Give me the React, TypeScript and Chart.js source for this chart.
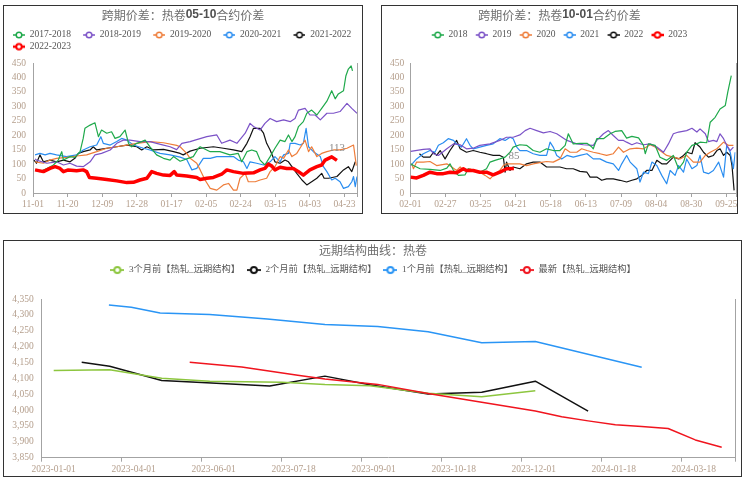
import React, { useEffect, useRef } from 'react';
import { Chart, registerables } from 'chart.js';

Chart.register(...registerables);

// ---------------- data: left panel (05-10) ----------------
const L_TICKS = ['11-01', '11-20', '12-09', '12-28', '01-17', '02-05', '02-24', '03-15', '04-03', '04-23'];
const L_NAMES = ['2017-2018', '2018-2019', '2019-2020', '2020-2021', '2021-2022', '2022-2023'];

const L_2017_2018: number[][] = [[0.06,80],[0.2,74],[0.4,85],[0.59,97],[0.73,114],[0.83,143],[0.88,114],[1.07,126],[1.21,123],[1.36,143],[1.45,189],[1.5,224],[1.65,235],[1.79,243],[1.89,195],[1.98,218],[2.13,207],[2.27,212],[2.37,189],[2.51,195],[2.66,218],[2.76,172],[2.85,160],[3.0,172],[3.14,178],[3.24,183],[3.38,160],[3.57,132],[3.77,120],[3.96,114],[4.06,126],[4.25,110],[4.44,118],[4.63,126],[4.78,155],[4.83,160],[5.12,143],[5.4,143],[5.69,132],[5.93,137],[6.03,108],[6.18,143],[6.32,149],[6.46,143],[6.56,114],[6.7,97],[6.85,126],[6.99,155],[7.14,183],[7.28,178],[7.38,201],[7.48,178],[7.57,195],[7.67,230],[7.81,247],[7.91,276],[8.05,287],[8.2,270],[8.34,293],[8.49,318],[8.63,354],[8.73,326],[8.82,343],[8.97,354],[9.04,406],[9.11,429],[9.19,440],[9.23,423]];
const L_2018_2019: number[][] = [[0.06,118],[0.1,114],[0.4,103],[0.68,108],[0.88,97],[1.07,103],[1.26,93],[1.45,91],[1.65,108],[1.79,132],[1.98,137],[2.23,149],[2.42,172],[2.61,183],[2.8,183],[3.09,178],[3.38,178],[3.57,172],[3.77,166],[3.96,160],[4.15,150],[4.3,172],[4.54,178],[4.68,183],[5.02,195],[5.31,201],[5.45,172],[5.69,183],[5.89,172],[6.13,207],[6.27,241],[6.37,230],[6.56,218],[6.7,241],[6.85,258],[7.04,247],[7.24,253],[7.43,247],[7.57,258],[7.67,287],[7.86,293],[8.0,270],[8.15,270],[8.3,253],[8.49,276],[8.68,276],[8.87,282],[9.07,310],[9.21,293],[9.36,276]];
const L_2019_2020: number[][] = [[0.06,108],[0.3,103],[0.49,114],[0.68,120],[0.97,123],[1.26,128],[1.55,132],[1.84,143],[2.13,155],[2.42,160],[2.71,166],[3.0,172],[3.38,178],[3.77,174],[4.15,165],[4.25,160],[4.44,137],[4.54,120],[4.73,103],[4.83,80],[4.97,45],[5.12,16],[5.31,10],[5.5,28],[5.65,33],[5.79,10],[5.89,10],[5.98,51],[6.13,68],[6.22,39],[6.42,39],[6.56,45],[6.75,51],[6.85,74],[6.99,91],[7.14,126],[7.24,120],[7.38,149],[7.48,126],[7.62,137],[7.77,166],[7.86,183],[7.96,143],[8.05,160],[8.2,126],[8.34,137],[8.49,143],[8.68,149],[8.87,149],[9.07,155],[9.26,166],[9.34,95]];
const L_2020_2021: number[][] = [[0.06,132],[0.2,137],[0.35,132],[0.49,137],[0.68,132],[0.97,126],[1.26,132],[1.45,149],[1.65,160],[1.84,166],[1.96,195],[2.03,172],[2.23,166],[2.42,178],[2.56,189],[2.71,183],[2.9,166],[3.19,155],[3.38,149],[3.67,137],[3.96,132],[4.25,124],[4.44,116],[4.59,80],[4.73,85],[4.92,120],[5.12,120],[5.31,126],[5.5,126],[5.79,126],[5.93,114],[6.08,108],[6.18,85],[6.27,108],[6.46,103],[6.66,97],[6.85,108],[6.99,126],[7.14,108],[7.24,132],[7.38,137],[7.43,172],[7.57,172],[7.72,166],[7.81,172],[7.89,224],[7.96,160],[8.1,143],[8.3,126],[8.39,91],[8.49,74],[8.63,45],[8.73,51],[8.87,39],[8.97,16],[9.11,22],[9.21,39],[9.26,57],[9.31,22],[9.36,57]];
const L_2021_2022: number[][] = [[0.03,114],[0.1,103],[0.2,132],[0.3,108],[0.49,114],[0.68,108],[0.88,114],[1.07,108],[1.21,120],[1.31,137],[1.45,143],[1.65,149],[1.74,160],[1.84,149],[2.13,155],[2.42,160],[2.71,166],[3.0,160],[3.14,149],[3.29,160],[3.48,149],[3.77,151],[4.06,143],[4.25,137],[4.34,132],[4.54,145],[4.83,155],[5.21,160],[5.5,155],[5.79,149],[6.03,143],[6.18,172],[6.27,195],[6.37,224],[6.56,224],[6.66,207],[6.75,172],[6.85,149],[6.99,108],[7.14,103],[7.28,114],[7.38,108],[7.48,91],[7.62,68],[7.77,45],[7.91,28],[8.05,39],[8.2,51],[8.34,68],[8.41,51],[8.54,51],[8.78,57],[8.97,80],[9.11,91],[9.21,74],[9.31,108]];
const L_2022_2023: number[][] = [[0.06,80],[0.3,74],[0.49,85],[0.64,91],[0.78,85],[0.88,74],[1.02,80],[1.26,77],[1.45,80],[1.55,74],[1.63,54],[1.84,51],[2.13,47],[2.42,42],[2.71,36],[2.9,37],[3.09,45],[3.29,51],[3.43,74],[3.57,68],[3.77,62],[3.96,61],[4.08,74],[4.15,62],[4.44,59],[4.73,54],[4.83,47],[5.02,51],[5.21,54],[5.45,65],[5.6,80],[5.79,74],[6.08,68],[6.37,70],[6.56,80],[6.7,85],[6.8,100],[6.9,93],[6.99,80],[7.14,89],[7.33,85],[7.52,85],[7.67,74],[7.81,62],[8.0,80],[8.2,91],[8.34,97],[8.44,114],[8.54,120],[8.63,125],[8.78,113]];

// ---------------- data: right panel (10-01) ----------------
const R_TICKS = ['02-01', '02-27', '03-25', '04-21', '05-18', '06-13', '07-09', '08-04', '08-30', '09-25'];
const R_NAMES = ['2018', '2019', '2020', '2021', '2022', '2023'];

const R_2018: number[][] = [[0.01,101],[0.09,95],[0.28,84],[0.56,82],[0.85,78],[1.04,86],[1.13,101],[1.23,78],[1.37,61],[1.56,63],[1.65,84],[1.79,78],[1.98,72],[2.17,84],[2.27,107],[2.41,113],[2.55,118],[2.7,124],[2.84,141],[2.93,159],[3.12,167],[3.31,165],[3.5,147],[3.69,141],[3.88,153],[4.07,147],[4.26,147],[4.41,165],[4.5,205],[4.64,170],[4.83,172],[5.03,172],[5.17,159],[5.21,153],[5.31,188],[5.5,188],[5.69,205],[5.83,213],[6.02,216],[6.16,190],[6.31,196],[6.5,191],[6.64,165],[6.69,136],[6.78,170],[6.97,165],[7.11,124],[7.3,113],[7.49,130],[7.64,84],[7.78,107],[7.87,141],[8.02,165],[8.16,170],[8.25,176],[8.44,174],[8.54,245],[8.68,262],[8.82,291],[8.97,303],[9.04,349],[9.14,406]];
const R_2019: number[][] = [[0.01,144],[0.37,151],[0.56,153],[0.66,136],[0.8,130],[1.04,153],[1.23,170],[1.42,167],[1.6,153],[1.79,155],[1.98,165],[2.27,170],[2.55,182],[2.74,193],[2.93,193],[3.12,201],[3.27,216],[3.41,224],[3.6,216],[3.79,208],[3.98,213],[4.17,205],[4.46,182],[4.74,170],[4.93,167],[5.21,165],[5.31,182],[5.5,205],[5.64,216],[5.78,199],[5.93,182],[6.07,182],[6.16,176],[6.31,167],[6.45,174],[6.64,167],[6.83,170],[7.02,159],[7.21,141],[7.35,170],[7.49,205],[7.64,211],[7.87,216],[8.02,224],[8.16,211],[8.25,222],[8.4,205],[8.49,178],[8.63,182],[8.73,178],[8.82,205],[8.92,188],[9.01,165],[9.11,147],[9.2,159]];
const R_2020: number[][] = [[0.04,101],[0.09,84],[0.18,107],[0.37,107],[0.56,109],[0.75,95],[1.04,101],[1.18,90],[1.32,78],[1.42,90],[1.51,78],[1.7,84],[1.79,78],[1.98,72],[2.13,61],[2.27,49],[2.41,67],[2.55,78],[2.65,95],[2.74,101],[2.93,101],[3.12,101],[3.31,95],[3.5,101],[3.69,105],[3.88,109],[4.07,107],[4.26,118],[4.41,153],[4.55,141],[4.74,141],[4.88,153],[5.03,147],[5.21,141],[5.4,136],[5.59,130],[5.78,136],[5.93,159],[6.07,141],[6.26,153],[6.45,155],[6.64,153],[6.83,167],[6.97,159],[7.11,147],[7.3,130],[7.49,124],[7.68,118],[7.87,130],[8.06,107],[8.25,107],[8.4,130],[8.54,141],[8.73,153],[8.92,176],[9.06,165],[9.2,165]];
const R_2021: number[][] = [[0.01,95],[0.18,118],[0.37,136],[0.56,147],[0.7,141],[0.8,165],[0.94,174],[1.08,188],[1.23,182],[1.32,170],[1.46,159],[1.6,188],[1.7,165],[1.79,153],[1.98,159],[2.17,165],[2.36,170],[2.55,188],[2.7,182],[2.84,193],[2.93,188],[3.03,159],[3.12,147],[3.31,147],[3.5,136],[3.69,130],[3.88,130],[3.98,176],[4.07,159],[4.17,130],[4.31,118],[4.46,130],[4.64,124],[4.83,130],[5.03,136],[5.21,118],[5.4,118],[5.59,107],[5.78,101],[5.93,78],[6.02,101],[6.16,130],[6.26,107],[6.45,84],[6.54,38],[6.64,72],[6.78,67],[6.88,107],[7.02,95],[7.16,61],[7.3,32],[7.4,78],[7.54,61],[7.64,95],[7.78,72],[7.87,118],[8.02,84],[8.16,95],[8.25,130],[8.35,72],[8.49,67],[8.63,78],[8.78,107],[8.92,55],[9.01,165],[9.11,141],[9.2,84],[9.25,141]];
const R_2022: number[][] = [[0.26,136],[0.37,124],[0.56,124],[0.66,141],[0.75,130],[0.85,147],[0.99,118],[1.13,147],[1.23,165],[1.32,182],[1.42,153],[1.51,147],[1.6,141],[1.79,147],[1.98,141],[2.17,136],[2.36,130],[2.55,130],[2.65,124],[2.7,72],[2.74,107],[2.84,78],[2.93,90],[3.12,84],[3.31,101],[3.5,107],[3.69,107],[3.88,90],[4.07,90],[4.26,90],[4.45,84],[4.64,84],[4.83,75],[5.03,72],[5.12,55],[5.31,55],[5.45,44],[5.59,49],[5.78,49],[5.97,44],[6.16,38],[6.31,44],[6.45,49],[6.59,61],[6.73,78],[6.88,78],[7.02,113],[7.16,101],[7.3,101],[7.49,124],[7.64,118],[7.78,130],[7.87,141],[8.02,136],[8.11,174],[8.25,159],[8.35,141],[8.49,124],[8.63,130],[8.73,147],[8.82,153],[8.92,130],[9.01,141],[9.11,130],[9.16,95],[9.22,9]];
const R_2023: number[][] = [[0.01,55],[0.18,52],[0.37,61],[0.56,72],[0.75,67],[0.94,67],[1.13,72],[1.32,70],[1.51,84],[1.6,78],[1.79,78],[1.98,72],[2.17,72],[2.36,63],[2.55,72],[2.74,84],[2.95,85]];

// ---------------- data: bottom panel (forward curve) ----------------
const B_TICKS = ['2023-01-01', '2023-04-01', '2023-06-01', '2023-07-18', '2023-09-01', '2023-10-18', '2023-12-01', '2024-01-18', '2024-03-18'];
const B_NAMES = ['3个月前【热轧_远期结构】', '2个月前【热轧_远期结构】', '1个月前【热轧_远期结构】', '最新【热轧_远期结构】'];
const B_3M: number[][] = [[0.15,4125],[0.85,4127],[1.5,4100],[2.1,4091],[3.0,4088],[3.54,4081],[4.1,4077],[4.83,4053],[5.5,4042],[6.17,4061]];
const B_2M: number[][] = [[0.5,4151],[0.85,4138],[1.5,4093],[2.0,4087],[2.85,4076],[3.54,4107],[4.1,4080],[4.83,4051],[5.5,4056],[6.17,4091],[6.83,3997]];
const B_1M: number[][] = [[0.84,4331],[1.12,4324],[1.48,4306],[2.1,4301],[2.82,4287],[3.54,4270],[4.2,4263],[4.83,4247],[5.5,4212],[6.17,4216],[7.5,4135]];
const B_LATEST: number[][] = [[1.85,4151],[2.5,4136],[3.2,4110],[3.54,4098],[4.2,4081],[4.83,4052],[5.5,4025],[6.17,3997],[6.5,3979],[6.83,3966],[7.17,3954],[7.5,3948],[7.83,3942],[8.17,3906],[8.5,3883]];

// ---------------- styles ----------------
const SERIF = '"Liberation Serif", "Noto Sans CJK SC", serif';
const CJK = '"Noto Sans CJK SC", sans-serif';
const TICK_COLOR = '#b49e8c';
const AXIS_COLOR = '#a3a3a3';
const LEGEND_COLOR = '#555555';
const TITLE_COLOR = '#6e6e6e';

const TOP_COLORS = ['#1fa94b', '#7b52c7', '#ee7d3a', '#2a8df0', '#111111', '#ff0000'];
const BOT_COLORS = ['#8dc63f', '#111111', '#2a95f5', '#f0141e'];

function markerImage(color: string, total: number, seg: number, lw: number, cw: number, r: number) {
  const c = document.createElement('canvas');
  c.width = total;
  c.height = 10;
  const ctx = c.getContext('2d')!;
  const x0 = total - seg;
  ctx.strokeStyle = color;
  ctx.lineWidth = lw;
  ctx.beginPath();
  ctx.moveTo(x0, 5);
  ctx.lineTo(total, 5);
  ctx.stroke();
  ctx.beginPath();
  ctx.arc(x0 + seg / 2, 5, r, 0, Math.PI * 2);
  ctx.fillStyle = '#ffffff';
  ctx.fill();
  ctx.lineWidth = cw;
  ctx.stroke();
  return c;
}

type Seg = { text: string; bold?: boolean };

function decorPlugin(cfg: { title: Seg[]; cx: number; cy: number; endLabel?: number }) {
  return {
    id: 'decor',
    afterDraw(chart: any) {
      const ctx = chart.ctx;
      const a = chart.chartArea;
      ctx.save();
      // right frame line of the plot
      ctx.strokeStyle = AXIS_COLOR;
      ctx.lineWidth = 1;
      ctx.beginPath();
      ctx.moveTo(Math.round(a.right) + 0.5, a.top);
      ctx.lineTo(Math.round(a.right) + 0.5, a.bottom + 4);
      ctx.stroke();
      // rich title
      const fontOf = (s: Seg) => (s.bold ? 'bold 12px "Liberation Sans", sans-serif' : `12px ${CJK}`);
      let total = 0;
      for (const s of cfg.title) {
        ctx.font = fontOf(s);
        total += ctx.measureText(s.text).width;
      }
      let x = cfg.cx - total / 2;
      ctx.textAlign = 'left';
      ctx.textBaseline = 'middle';
      for (const s of cfg.title) {
        ctx.font = fontOf(s);
        ctx.fillStyle = s.bold ? '#505050' : TITLE_COLOR;
        ctx.fillText(s.text, x, cfg.cy);
        x += ctx.measureText(s.text).width;
      }
      // value label at end of the current-year series
      if (cfg.endLabel !== undefined) {
        const meta = chart.getDatasetMeta(cfg.endLabel);
        const pts = meta.data;
        const p = pts[pts.length - 1];
        const d = chart.data.datasets[cfg.endLabel].data;
        const v = d[d.length - 1].y;
        ctx.font = `11px ${SERIF}`;
        ctx.fillStyle = '#8a8a8a';
        ctx.textAlign = 'center';
        ctx.fillText(String(v), p.x, p.y - 12);
      }
      ctx.restore();
    },
  };
}

function ds(label: string, pts: number[][], color: string, width: number, img: any, order: number) {
  return {
    label,
    data: pts.map(([x, y]) => ({ x, y })),
    borderColor: color,
    backgroundColor: color,
    borderWidth: width,
    pointRadius: 0,
    pointHoverRadius: 0,
    pointStyle: img,
    tension: 0,
    fill: false,
    order,
    borderJoinStyle: 'round',
  };
}

type Opt = {
  padL: number; padR: number; padT: number;
  align: string; boxW: number; legPad: number; legSize: number; spacer: number;
  xMax: number; xH: number; xLabels: string[]; labelOffset: number;
  yMin: number; yMax: number; yStep: number; yW: number; yPad: number; yFmt: (v: number) => string;
};

function makeOptions(o: Opt) {
  const tickFont = { family: SERIF, size: 9.5 };
  return {
    responsive: false,
    animation: false,
    devicePixelRatio: 1,
    events: [],
    layout: { padding: { left: o.padL, right: o.padR, top: o.padT, bottom: 0 } },
    plugins: {
      title: { display: false },
      tooltip: { enabled: false },
      legend: {
        display: true,
        position: 'top',
        align: o.align,
        labels: {
          usePointStyle: true,
          pointStyleWidth: o.boxW,
          padding: o.legPad,
          color: LEGEND_COLOR,
          font: { family: SERIF, size: o.legSize },
          sort: (a: any, b: any) => a.datasetIndex - b.datasetIndex,
        },
      },
      subtitle: {
        display: true,
        text: ' ',
        weight: 500,
        position: 'top',
        color: 'rgba(0,0,0,0)',
        font: { size: 1, lineHeight: 1 },
        padding: { top: 0, bottom: Math.max(o.spacer - 1, 0) },
      },
    },
    scales: {
      x: {
        type: 'linear',
        min: 0,
        max: o.xMax,
        afterFit: (s: any) => { s.height = o.xH; },
        border: { display: true, color: AXIS_COLOR, width: 1 },
        grid: { display: true, drawOnChartArea: false, drawTicks: true, tickLength: 4, tickColor: AXIS_COLOR, color: AXIS_COLOR },
        ticks: {
          stepSize: 1,
          includeBounds: false,
          autoSkip: false,
          maxRotation: 0,
          minRotation: 0,
          padding: 2,
          labelOffset: o.labelOffset,
          color: TICK_COLOR,
          font: tickFont,
          callback: (v: number) => {
            const i = Math.round(v);
            return Math.abs(v - i) < 1e-6 ? (o.xLabels[i] ?? '') : '';
          },
        },
      },
      y: {
        type: 'linear',
        min: o.yMin,
        max: o.yMax,
        afterFit: (s: any) => { s.width = o.yW; },
        border: { display: true, color: AXIS_COLOR, width: 1 },
        grid: { display: false, drawTicks: false },
        ticks: {
          stepSize: o.yStep,
          padding: o.yPad,
          color: TICK_COLOR,
          font: tickFont,
          callback: (v: number) => o.yFmt(v),
        },
      },
    },
  };
}

function buildLeft(canvas: HTMLCanvasElement) {
  const series = [L_2017_2018, L_2018_2019, L_2019_2020, L_2020_2021, L_2021_2022, L_2022_2023];
  const datasets = series.map((s, i) => {
    const red = i === 5;
    const img = markerImage(TOP_COLORS[i], 22, 12, red ? 2.5 : 1.5, red ? 2 : 1.5, 2.8);
    return ds(L_NAMES[i], s, TOP_COLORS[i], red ? 3.5 : 1.2, img, red ? -1 : i);
  });
  return new Chart(canvas, {
    type: 'line',
    data: { datasets },
    options: makeOptions({
      padL: 0.8, padR: 15, padT: 28, align: 'start', boxW: 22, legPad: 2.2, legSize: 9.5, spacer: 1.6,
      xMax: 9.36, xH: 22, xLabels: L_TICKS, labelOffset: 0,
      yMin: 0, yMax: 450, yStep: 50, yW: 32.2, yPad: 7, yFmt: (v) => String(v),
    }) as any,
    plugins: [decorPlugin({ title: [{ text: '跨期价差：热卷' }, { text: '05-10', bold: true }, { text: '合约价差' }], cx: 183, cy: 15, endLabel: 5 })],
  } as any);
}

function buildRight(canvas: HTMLCanvasElement) {
  const series = [R_2018, R_2019, R_2020, R_2021, R_2022, R_2023];
  const datasets = series.map((s, i) => {
    const red = i === 5;
    const img = markerImage(TOP_COLORS[i], 18, 12, red ? 2.5 : 1.5, red ? 2 : 1.5, 2.8);
    return ds(R_NAMES[i], s, TOP_COLORS[i], red ? 3.5 : 1.2, img, red ? -1 : i);
  });
  return new Chart(canvas, {
    type: 'line',
    data: { datasets },
    options: makeOptions({
      padL: 5.5, padR: 9.5, padT: 28, align: 'center', boxW: 18, legPad: 2.2, legSize: 9.5, spacer: 13.3,
      xMax: 9.26, xH: 22, xLabels: R_TICKS, labelOffset: 0,
      yMin: 0, yMax: 450, yStep: 50, yW: 32.8, yPad: 6, yFmt: (v) => String(v),
    }) as any,
    plugins: [decorPlugin({ title: [{ text: '跨期价差：热卷' }, { text: '10-01', bold: true }, { text: '合约价差' }], cx: 187.5, cy: 15, endLabel: 5 })],
  } as any);
}

function buildBottom(canvas: HTMLCanvasElement) {
  const series = [B_3M, B_2M, B_1M, B_LATEST];
  const datasets = series.map((s, i) => {
    const img = markerImage(BOT_COLORS[i], 14, 14, 1.8, 2, 3);
    return ds(B_NAMES[i], s, BOT_COLORS[i], 1.5, img, i === 3 ? -1 : i);
  });
  return new Chart(canvas, {
    type: 'line',
    data: { datasets },
    options: makeOptions({
      padL: 11, padR: 10, padT: 18.5, align: 'center', boxW: 14, legPad: 6.9, legSize: 9.25, spacer: 14.35,
      xMax: 8.666, xH: 19.3, xLabels: B_TICKS, labelOffset: 12,
      yMin: 3850, yMax: 4350, yStep: 50, yW: 30.7, yPad: 8, yFmt: (v) => Number(v).toLocaleString('en-US'),
    }) as any,
    plugins: [decorPlugin({ title: [{ text: '远期结构曲线：热卷' }], cx: 373, cy: 10 })],
  } as any);
}

function ChartCanvas(props: { left: number; top: number; width: number; height: number; build: (c: HTMLCanvasElement) => Chart }) {
  const ref = useRef<HTMLCanvasElement>(null);
  useEffect(() => {
    const chart = props.build(ref.current!);
    return () => chart.destroy();
  }, []);
  return (
    <canvas
      ref={ref}
      width={props.width}
      height={props.height}
      style={{ position: 'absolute', left: props.left, top: props.top, width: props.width, height: props.height }}
    />
  );
}

function Frame(props: { left: number; top: number; width: number; height: number }) {
  return (
    <div
      style={{
        position: 'absolute',
        left: props.left,
        top: props.top,
        width: props.width,
        height: props.height,
        border: '1px solid #333',
        boxSizing: 'border-box',
        pointerEvents: 'none',
      }}
    />
  );
}

export default function App() {
  return (
    <div style={{ position: 'absolute', left: 0, top: 0, width: 745, height: 486, background: '#fff', overflow: 'hidden' }}>
      <ChartCanvas left={0} top={0} width={372} height={215} build={buildLeft} />
      <ChartCanvas left={372} top={0} width={373} height={215} build={buildRight} />
      <ChartCanvas left={0} top={240} width={745} height={237} build={buildBottom} />
      <Frame left={3} top={5} width={360} height={209} />
      <Frame left={381} top={5} width={357} height={209} />
      <Frame left={3} top={240} width={739} height={237} />
    </div>
  );
}
